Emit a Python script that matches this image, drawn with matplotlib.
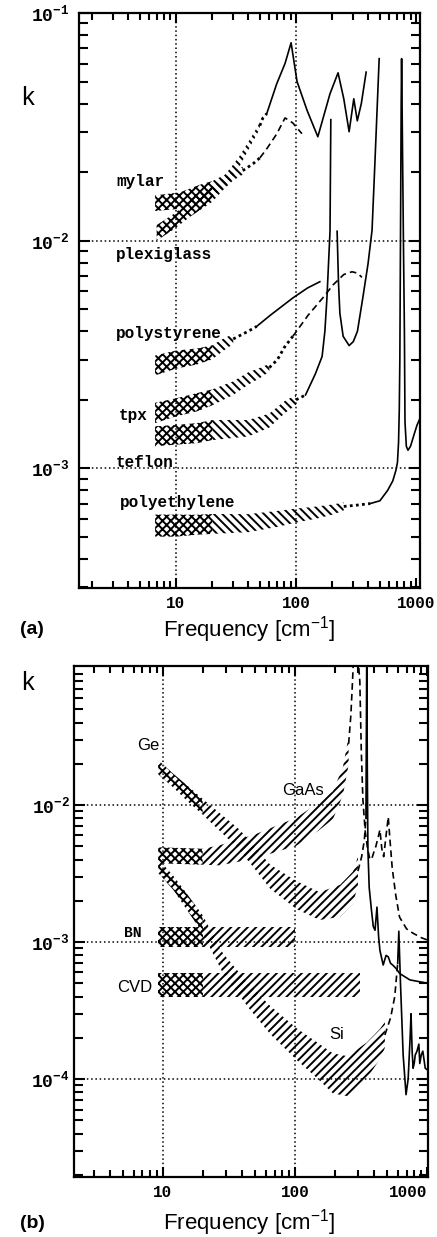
import numpy as np
import matplotlib
matplotlib.use("Agg")
import matplotlib.pyplot as plt
from matplotlib.ticker import LogLocator, NullFormatter

# ---------------- (a) polymers ----------------
# each material: crosshatched band (measured), hatched band, dotted tail, then a line
mylar_xf = [6.7, 10.8, 15.8, 20.3]
mylar_xlo = [0.0135, 0.0138, 0.0149, 0.0156]
mylar_xhi = [0.0158, 0.0163, 0.0176, 0.0183]
mylar_hf = [20.3, 25.6, 29.8, 34, 41, 50]
mylar_hlo = [0.0156, 0.0172, 0.0190, 0.0213, 0.0256, 0.0310]
mylar_hhi = [0.0183, 0.0195, 0.0215, 0.0236, 0.0277, 0.0330]
mylar_df = [50, 53, 57]
mylar_dk = [0.032, 0.0346, 0.0361]
mylar_f = [57, 69, 81, 91, 102, 124, 152, 192, 224, 250, 277, 303, 324, 350, 384]
mylar_k = [0.0361, 0.0488, 0.060, 0.074, 0.050, 0.0372, 0.0286, 0.0442, 0.0546,
           0.042, 0.0301, 0.042, 0.0336, 0.040, 0.055]

plexi_xf = [6.9, 9.8, 13, 17.5, 20]
plexi_xlo = [0.0100, 0.0113, 0.0127, 0.0141, 0.0148]
plexi_xhi = [0.0117, 0.0132, 0.0150, 0.0166, 0.0173]
plexi_hf = [20, 25, 30, 36]
plexi_hlo = [0.0148, 0.0168, 0.0184, 0.0195]
plexi_hhi = [0.0173, 0.0189, 0.0203, 0.0211]
plexi_df = [36, 44, 50]
plexi_dk = [0.0203, 0.0218, 0.0231]
plexi_f = [50, 57, 69, 81, 94, 112]
plexi_k = [0.0231, 0.0253, 0.0294, 0.0346, 0.0329, 0.0295]

pstyr_xf = [6.7, 10, 15, 20]
pstyr_xlo = [0.00256, 0.00274, 0.00286, 0.00301]
pstyr_xhi = [0.00313, 0.00329, 0.00336, 0.00347]
pstyr_hf = [20, 25, 30]
pstyr_hlo = [0.00301, 0.00329, 0.00352]
pstyr_hhi = [0.00347, 0.00372, 0.00389]
pstyr_df = [30, 40, 47]
pstyr_dk = [0.0037, 0.0040, 0.0042]
pstyr_f = [47, 61, 94, 125, 158]
pstyr_k = [0.0042, 0.0047, 0.0056, 0.0062, 0.0066]

tpx_xf = [6.7, 10, 15, 20]
tpx_xlo = [0.00158, 0.00169, 0.00178, 0.00189]
tpx_xhi = [0.00194, 0.00203, 0.00214, 0.00222]
tpx_hf = [20, 30, 40, 50, 60]
tpx_hlo = [0.00189, 0.0021, 0.00233, 0.00249, 0.00266]
tpx_hhi = [0.00222, 0.00241, 0.00264, 0.00276, 0.00288]
tpx_df = [60, 70, 80, 94]
tpx_dk = [0.00277, 0.0030, 0.0034, 0.0038]
tpx_f = [94, 101, 126, 167, 204, 250, 293, 325, 354]
tpx_k = [0.0038, 0.0040, 0.0047, 0.0056, 0.0064, 0.0071, 0.0073, 0.0072, 0.0069]

teflon_xf = [6.7, 10, 15, 20]
teflon_xlo = [0.00125, 0.00127, 0.00129, 0.00133]
teflon_xhi = [0.00153, 0.00155, 0.00158, 0.00163]
teflon_hf = [20, 40, 60, 80, 100]
teflon_hlo = [0.00133, 0.00138, 0.00151, 0.00174, 0.0019]
teflon_hhi = [0.00163, 0.00163, 0.00174, 0.00197, 0.0021]
teflon_df = [100, 110, 120]
teflon_dk = [0.0020, 0.00205, 0.0021]
# the narrow line near 200 cm-1 is cut off at its top, hence the gap
teflon_f = [120, 145, 165, 174, 181, 192, 195, 216, 220, 226, 232, 247, 277, 300,
            325, 360, 398, 430, 455, 493]
teflon_k = [0.0021, 0.0026, 0.0031, 0.0040, 0.0056, 0.011, 0.034, np.nan, 0.011,
            0.0065, 0.0048, 0.0038, 0.00346, 0.0036, 0.0040, 0.0056, 0.0079,
            0.0111, 0.0224, 0.063]

pe_xf = [6.7, 10, 15, 20]
pe_xlo = [0.000501, 0.000501, 0.000511, 0.000515]
pe_xhi = [0.000626, 0.000626, 0.000625, 0.00063]
pe_hf = [20, 40, 70, 100, 150, 204, 250]
pe_hlo = [0.000515, 0.000524, 0.000553, 0.000578, 0.000602, 0.000627, 0.000653]
pe_hhi = [0.00063, 0.000629, 0.00065, 0.000665, 0.00068, 0.000694, 0.000708]
pe_df = [250, 330, 415]
pe_dk = [0.00068, 0.00069, 0.0007]
pe_f = [415, 500, 580, 640, 680, 700, 715, 725, 733, 742, 752, 758, 765, 785, 800,
        809, 830, 857, 900, 960, 1020, 1080]
pe_k = [0.0007, 0.00072, 0.0008, 0.00088, 0.00098, 0.00106, 0.0013, 0.0018, 0.003,
        0.01, 0.04, 0.063, 0.04, 0.01, 0.004, 0.0016, 0.00125, 0.0012, 0.00125,
        0.0014, 0.00155, 0.00166]

# ---------------- (b) crystals ----------------
ge_xf = [9.2, 12, 15, 20]
ge_xlo = [0.0168, 0.0134, 0.0109, 0.0085]
ge_xhi = [0.0213, 0.0169, 0.0141, 0.0111]
ge_hf = [20, 38, 65, 103, 154, 220, 275, 300]
ge_hlo = [0.0085, 0.00473, 0.00245, 0.00174, 0.00145, 0.00153, 0.00191, 0.0026]
ge_hhi = [0.0111, 0.00663, 0.00367, 0.00278, 0.00231, 0.00262, 0.00327, 0.0042]
ge_df = [300, 320, 335, 345]
ge_dk = [0.0033, 0.0042, 0.0055, 0.008]
ge_f = [345, 350, 353, 357, 365, 380, 392, 404, 418, 430, 440, 466, 490, 509, 530,
        550, 585, 621, 741, 1018]
ge_k = [0.008, 0.15, 0.02, 0.0047, 0.0025, 0.0017, 0.0013, 0.00122, 0.0018, 0.0011,
        0.00087, 0.00068, 0.0008, 0.00078, 0.0007, 0.00068, 0.00064, 0.00059,
        0.00053, 0.0005]

gaas_xf = [9.2, 20]
gaas_xlo = [0.00376, 0.00367]
gaas_xhi = [0.00492, 0.0048]
gaas_hf = [20, 27, 50, 103, 150, 194, 231, 255]
gaas_hlo = [0.00367, 0.00363, 0.00408, 0.00506, 0.00648, 0.0079, 0.01186, 0.01976]
gaas_hhi = [0.0048, 0.00509, 0.00612, 0.0081, 0.01037, 0.01265, 0.019, 0.0316]
gaas_uf = [255, 265, 272, 278]
gaas_uk = [0.028, 0.045, 0.075, 0.12]
gaas_f = [300, 310, 318, 327, 340, 355, 370, 383, 395, 410, 430, 440, 455, 470, 490,
          509, 525, 545, 580, 620, 700, 785, 900, 1018]
gaas_k = [0.12, 0.08, 0.025, 0.011, 0.0065, 0.0048, 0.0040, 0.0041, 0.0045, 0.005,
          0.006, 0.0066, 0.0048, 0.0042, 0.006, 0.0082, 0.0055, 0.0035, 0.0022,
          0.00152, 0.00125, 0.00116, 0.00108, 0.00103]

si_xf = [9.2, 12, 15, 20]
si_xlo = [0.0032, 0.0024, 0.00175, 0.00116]
si_xhi = [0.00405, 0.00304, 0.00229, 0.00157]
si_hf = [20, 28.5, 45, 65, 103, 150, 194, 250, 350, 440, 480]
si_hlo = [0.00116, 0.000592, 0.000327, 0.000213, 0.000138, 0.0000998, 0.0000786,
          0.0000751, 0.000101, 0.00014, 0.000169]
si_hhi = [0.00157, 0.000828, 0.00049, 0.000342, 0.000235, 0.000183, 0.000154,
          0.000147, 0.000185, 0.000232, 0.000261]
si_df = [480, 530, 570, 600]
si_dk = [0.00021, 0.00028, 0.0004, 0.0007]
si_f = [600, 612, 630, 660, 694, 720, 745, 757, 772, 785, 800, 815, 840, 868, 882,
        905, 930, 970, 1018]
si_k = [0.0007, 0.0012, 0.0005, 0.00015, 0.000077, 0.0001, 0.0002, 0.0003, 0.00016,
        0.00012, 0.00013, 0.00015, 0.00016, 0.00018, 0.00013, 0.00015, 0.00016,
        0.00012, 0.000116]

bn_xf = [9.2, 20]
bn_hf = [20, 100]
bn_lo = 0.00092
bn_hi = 0.00129

cvd_xf = [9.2, 20]
cvd_hf = [20, 310]
cvd_lo = 0.000397
cvd_hi = 0.00059

MONO = "Liberation Mono"
SANS = "Liberation Sans"
W, H = 437, 1237

plt.rcParams["mathtext.fontset"] = "custom"
plt.rcParams["mathtext.tt"] = "Liberation Mono:bold"
plt.rcParams["mathtext.sf"] = "Liberation Sans"
plt.rcParams["hatch.linewidth"] = 1.4
plt.rcParams["hatch.color"] = "black"

LW = 1.2
DOT = (0, (1, 1.2))
DASH = (0, (4, 2.5))


def band(ax, f, lo, hi, hatch):
    lo = np.broadcast_to(lo, len(f))
    hi = np.broadcast_to(hi, len(f))
    ax.fill_between(f, lo, hi, facecolor="none", edgecolor="black",
                    hatch=hatch, linewidth=0)


def setup(ax, xlim, ylim, yticks, ylabels, ypad):
    ax.set_xscale("log")
    ax.set_yscale("log")
    ax.set_xlim(*xlim)
    ax.set_ylim(*ylim)
    ax.set_xticks([10, 100, 1000], ["10", "100", "1000"],
                  fontfamily=MONO, fontweight="bold", fontsize=11.5)
    ax.set_yticks(yticks, ylabels, fontsize=13)
    ax.xaxis.set_minor_locator(LogLocator(base=10, subs=np.arange(2, 10)))
    ax.yaxis.set_minor_locator(LogLocator(base=10, subs=np.arange(2, 10)))
    ax.xaxis.set_minor_formatter(NullFormatter())
    ax.yaxis.set_minor_formatter(NullFormatter())
    ax.tick_params(which="both", direction="in", top=True, right=True, width=1.5)
    ax.tick_params(axis="x", which="major", length=7, pad=6)
    ax.tick_params(axis="x", which="minor", length=5)
    ax.tick_params(axis="y", which="major", length=8, pad=ypad)
    ax.tick_params(axis="y", which="minor", length=6.5)
    for s in ax.spines.values():
        s.set_linewidth(1.6)
    for x in (10, 100):
        ax.axvline(x, color="black", lw=1.1, ls=(0, (1, 1.8)), zorder=0)


fig = plt.figure(figsize=(W / 100, H / 100), dpi=100)

# ---- panel (a) ----
ax = fig.add_axes([79 / W, 1 - 588 / H, 341 / W, 575 / H])
setup(ax, (1.556, 1079), (2.98e-4, 0.1), [1e-3, 1e-2, 1e-1],
      [r"$\mathtt{10^{-3}}$", r"$\mathtt{10^{-2}}$", r"$\mathtt{10^{-1}}$"], 7)
for y in (1e-2, 1e-3):
    ax.axhline(y, color="black", lw=1.1, ls=(0, (1, 1.8)), zorder=0)

for xf, xlo, xhi, hf, hlo, hhi, df, dk in [
        (mylar_xf, mylar_xlo, mylar_xhi, mylar_hf, mylar_hlo, mylar_hhi, mylar_df, mylar_dk),
        (plexi_xf, plexi_xlo, plexi_xhi, plexi_hf, plexi_hlo, plexi_hhi, plexi_df, plexi_dk),
        (pstyr_xf, pstyr_xlo, pstyr_xhi, pstyr_hf, pstyr_hlo, pstyr_hhi, pstyr_df, pstyr_dk),
        (tpx_xf, tpx_xlo, tpx_xhi, tpx_hf, tpx_hlo, tpx_hhi, tpx_df, tpx_dk),
        (teflon_xf, teflon_xlo, teflon_xhi, teflon_hf, teflon_hlo, teflon_hhi, teflon_df, teflon_dk),
        (pe_xf, pe_xlo, pe_xhi, pe_hf, pe_hlo, pe_hhi, pe_df, pe_dk)]:
    band(ax, xf, xlo, xhi, "xxxx")
    band(ax, hf, hlo, hhi, "\\\\\\\\")
    ax.plot(df, dk, color="black", lw=2, ls=DOT)

ax.plot(mylar_f, mylar_k, color="black", lw=LW)
ax.plot(plexi_f, plexi_k, color="black", lw=LW, ls=DASH)
ax.plot(pstyr_f, pstyr_k, color="black", lw=LW)
ax.plot(tpx_f, tpx_k, color="black", lw=LW, ls=DASH)
ax.plot(teflon_f, teflon_k, color="black", lw=LW)
ax.plot(pe_f, pe_k, color="black", lw=LW)

lab = dict(fontfamily=MONO, fontweight="bold", fontsize=11.5, ha="left", va="center")
ax.text(3.16, 0.0181, "mylar", **lab)
ax.text(3.16, 0.00868, "plexiglass", **lab)
ax.text(3.16, 0.00391, "polystyrene", **lab)
ax.text(3.35, 0.00171, "tpx", **lab)
ax.text(3.16, 0.00106, "teflon", **lab)
ax.text(3.41, 0.000709, "polyethylene", **lab)

fig.text(28 / W, 1 - 98 / H, "k", fontfamily=MONO, fontsize=18, ha="center", va="center")
fig.text(20 / W, 1 - 630 / H, "(a)", fontfamily=SANS, fontweight="bold",
         fontsize=14, ha="left", va="center")
fig.text(249 / W, 1 - 630 / H, r"Frequency [cm$^{\mathsf{-1}}$]", fontfamily=SANS,
         fontsize=16, ha="center", va="center")

# ---- panel (b) ----
ax = fig.add_axes([74 / W, 1 - 1177 / H, 354 / W, 511 / H])
setup(ax, (2.12, 1018), (1.93e-5, 0.1035), [1e-4, 1e-3, 1e-2],
      [r"$\mathtt{10^{-4}}$", r"$\mathtt{10^{-3}}$", r"$\mathtt{10^{-2}}$"], 3)
ax.get_xticklabels()[-1].set_ha("right")
for y in (1e-2, 1e-3, 1e-4):
    ax.axhline(y, color="black", lw=1.1, ls=(0, (1, 1.8)), zorder=0)

band(ax, bn_xf, bn_lo, bn_hi, "xxxx")
band(ax, bn_hf, bn_lo, bn_hi, "////")
band(ax, cvd_xf, cvd_lo, cvd_hi, "xxxx")
band(ax, cvd_hf, cvd_lo, cvd_hi, "////")
band(ax, ge_xf, ge_xlo, ge_xhi, "xxxx")
band(ax, ge_hf, ge_hlo, ge_hhi, "////")
band(ax, gaas_xf, gaas_xlo, gaas_xhi, "xxxx")
band(ax, gaas_hf, gaas_hlo, gaas_hhi, "////")
band(ax, si_xf, si_xlo, si_xhi, "xxxx")
band(ax, si_hf, si_hlo, si_hhi, "////")

ax.plot(ge_df, ge_dk, color="black", lw=LW, ls=DASH)
ax.plot(ge_f, ge_k, color="black", lw=LW)
ax.plot(gaas_uf, gaas_uk, color="black", lw=LW, ls=DASH)
ax.plot(gaas_f, gaas_k, color="black", lw=LW, ls=DASH)
ax.plot(si_df, si_dk, color="black", lw=LW, ls=DASH)
ax.plot(si_f, si_k, color="black", lw=LW)

sans = dict(fontfamily=SANS, fontsize=12, ha="center", va="center")
ax.text(7.7, 0.0274, "Ge", **sans)
ax.text(115, 0.0128, "GaAs", **sans)
ax.text(6.14, 0.00047, "CVD", **sans)
ax.text(208, 0.00021, "Si", **sans)
ax.text(5.93, 0.00116, "BN", fontfamily=MONO, fontweight="bold", fontsize=10.5,
        ha="center", va="center")

fig.text(28 / W, 1 - 683 / H, "k", fontfamily=MONO, fontsize=18, ha="center", va="center")
fig.text(20 / W, 1 - 1223 / H, "(b)", fontfamily=SANS, fontweight="bold",
         fontsize=14, ha="left", va="center")
fig.text(249 / W, 1 - 1223 / H, r"Frequency [cm$^{\mathsf{-1}}$]", fontfamily=SANS,
         fontsize=16, ha="center", va="center")

fig.savefig("out.png", dpi=100)
